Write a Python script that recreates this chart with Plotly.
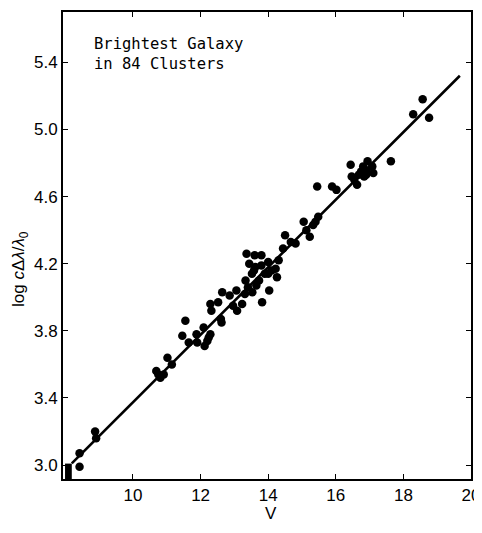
import plotly.graph_objects as go

# Brightest galaxy in 84 clusters: V magnitude vs log cΔλ/λ0
v_mag = [8.42, 8.42, 8.88, 8.91, 10.69, 10.81, 10.91, 11.02, 11.15, 11.46,
         11.55, 11.65, 11.88, 11.90, 12.09, 12.12, 12.24, 12.29, 12.29, 12.32,
         12.52, 12.62, 12.64, 12.86, 12.96, 13.06, 13.08, 13.23, 13.31, 13.33,
         13.36, 13.44, 13.52, 13.53, 13.60, 13.62, 13.65, 13.73, 13.80, 13.82,
         13.80, 14.00, 14.00, 14.03, 14.22, 14.26, 14.31, 14.44, 14.50, 14.67,
         14.81, 15.05, 15.13, 15.23, 15.33, 15.45, 15.48, 15.89, 16.02, 16.44,
         16.47, 16.63, 16.68, 16.81, 16.84, 16.91, 16.94, 17.08, 17.11, 17.63,
         18.29, 18.57, 18.76,
         10.75, 12.20, 12.60, 13.40, 13.58, 13.90, 14.10, 16.55, 16.75, 16.90, 15.40]
log_cz = [2.99, 3.07, 3.20, 3.16, 3.56, 3.52, 3.54, 3.64, 3.60, 3.77,
          3.86, 3.73, 3.78, 3.73, 3.82, 3.71, 3.76, 3.78, 3.96, 3.92,
          3.97, 3.85, 4.03, 4.01, 3.95, 4.04, 3.92, 3.96, 4.02, 4.10,
          4.26, 4.20, 4.14, 4.03, 4.25, 4.18, 4.07, 4.10, 4.25, 3.97,
          4.19, 4.21, 4.14, 4.04, 4.17, 4.12, 4.22, 4.29, 4.37, 4.33,
          4.32, 4.45, 4.40, 4.36, 4.43, 4.66, 4.48, 4.66, 4.64, 4.79,
          4.72, 4.67, 4.73, 4.78, 4.72, 4.75, 4.81, 4.78, 4.74, 4.81,
          5.09, 5.18, 5.07,
          3.54, 3.74, 3.87, 4.06, 4.16, 4.14, 4.16, 4.70, 4.75, 4.73, 4.45]

fit_v = [8.19, 19.67]
fit_logcz = [3.01, 5.32]

x_ticks = [10, 12, 14, 16, 18, 20]
y_ticks = [3.0, 3.4, 3.8, 4.2, 4.6, 5.0, 5.4]
y_tick_labels = ["3.0", "3.4", "3.8", "4.2", "4.6", "5.0", "5.4"]

tick_font = dict(family="Liberation Sans, Arial, sans-serif", size=17, color="black")

fig = go.Figure()
fig.add_trace(go.Scatter(x=fit_v, y=fit_logcz, mode="lines",
                         line=dict(color="black", width=2.6),
                         showlegend=False, hoverinfo="skip"))
fig.add_trace(go.Scatter(x=v_mag, y=log_cz, mode="markers",
                         marker=dict(color="black", size=8.5),
                         showlegend=False))

# dark printed block at the lower-left corner of the frame
fig.add_shape(type="rect", xref="x", yref="paper",
              x0=7.99, x1=8.19, y0=0, y1=0.033,
              fillcolor="black", line=dict(width=0), layer="above")

fig.add_annotation(text="Brightest Galaxy<br>in 84 Clusters",
                   xref="paper", yref="paper", x=0.072, y=0.955,
                   xanchor="left", yanchor="top", align="left", showarrow=False,
                   font=dict(family="DejaVu Sans Mono, monospace", size=15.5, color="black"))

# axis titles
fig.add_annotation(text="V", xref="paper", yref="paper", x=0.51, y=-0.073,
                   xanchor="center", yanchor="middle", showarrow=False, font=tick_font)
fig.add_annotation(text="log <i>c</i>Δ<i>λ</i>/<i>λ</i><sub>0</sub>",
                   xref="paper", yref="paper", x=-0.105, y=0.45, textangle=-90,
                   xanchor="center", yanchor="middle", showarrow=False, font=tick_font)

fig.update_xaxes(range=[7.93, 20.0], tickvals=x_ticks, ticks="inside", ticklen=5,
                 tickwidth=1.2, tickcolor="black", showline=True, linecolor="black",
                 linewidth=2, mirror="ticks", showgrid=False, zeroline=False,
                 tickfont=tick_font, automargin=False)
fig.update_yaxes(range=[2.917, 5.70], tickvals=y_ticks, ticktext=y_tick_labels,
                 ticks="inside", ticklen=5, tickwidth=1.2, tickcolor="black",
                 showline=True, linecolor="black", linewidth=2, mirror="ticks",
                 showgrid=False, zeroline=False, tickfont=tick_font, automargin=False)

# page body adds an 8px offset; size the figure so the plot frame lands
# at the reference position (63..471 x 12..479 in the window) without
# making the page taller than the window
fig.update_layout(width=474, height=517,
                  margin=dict(l=55, r=11, t=4, b=46),
                  plot_bgcolor="white", paper_bgcolor="white")

fig.write_html("out.html")
